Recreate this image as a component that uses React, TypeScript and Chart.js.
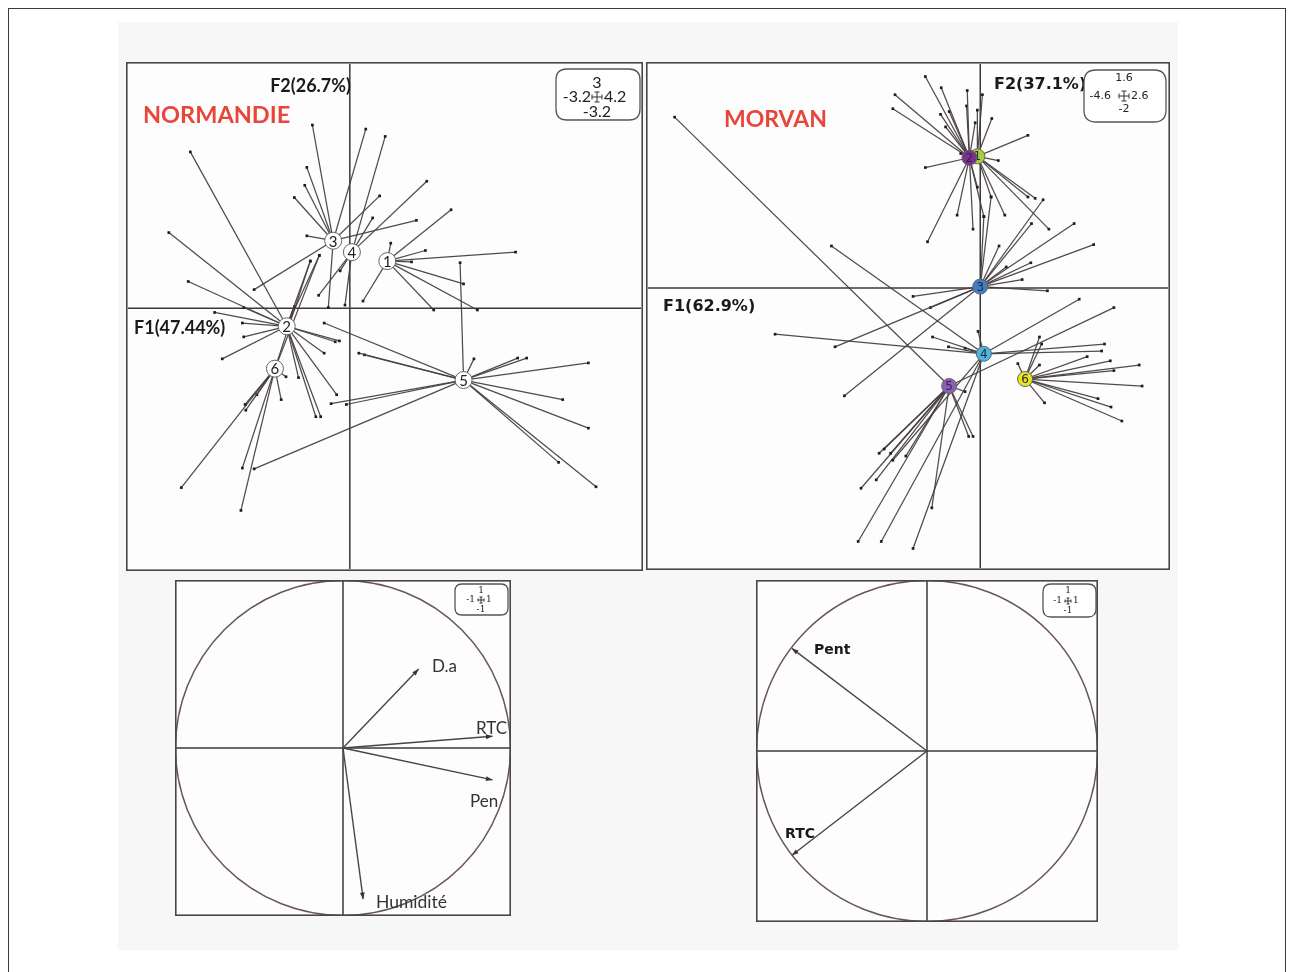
import React, { useEffect, useRef } from "react";
import { Chart, registerables } from "chart.js";
Chart.register(...registerables);

type P = [number, number];

// ---------------- NORMANDIE (ACP individus) ----------------
const NORM_TITLE = "NORMANDIE";
const NORM_F1 = "F1(47.44%)";
const NORM_F2 = "F2(26.7%)";
const NORM_RANGE = { xMin: -3.2, xMax: 4.2, yMin: -3.2, yMax: 3 };
const NORM_RANGE_LABELS = ["3", "-3.2", "4.2", "-3.2"]; // top, left, right, bottom
const NORM_CLASSES = ["1", "2", "3", "4", "5", "6"];
const NORM_CENTROIDS: P[] = [[0.54, 0.58], [-0.91, -0.22], [-0.24, 0.83], [0.03, 0.69], [1.64, -0.88], [-1.08, -0.74]];
const NORM_G1: P[] = [[1.46, 1.21], [1.09, 0.71], [2.39, 0.69], [0.89, 0.57], [1.64, 0.30], [1.21, -0.02], [1.84, -0.02], [0.59, 0.80], [0.19, 0.09]];
const NORM_G2: P[] = [[-2.30, 1.92], [-2.61, 0.93], [-2.33, 0.33], [-1.95, -0.05], [-1.53, 0.01], [-1.84, -0.62], [-1.53, -0.35], [-1.55, -0.18], [-0.15, -0.40], [-0.21, -0.41], [-0.37, -0.55], [-0.74, -0.85], [-0.19, -1.06], [-0.49, -1.33], [-0.42, -1.33], [-0.57, 0.58], [-0.44, 0.65], [-0.80, 0.02]];
const NORM_G3: P[] = [[-0.54, 2.25], [0.23, 2.20], [-0.62, 1.73], [-0.65, 1.51], [-0.80, 1.36], [0.43, 1.38], [-0.62, 0.89], [-1.38, 0.23], [0.96, 1.08], [-0.31, 0.01]];
const NORM_G4: P[] = [[1.11, 1.56], [0.51, 2.11], [0.33, 1.11], [-0.14, 0.46], [-0.45, 0.16], [-0.07, 0.04]];
const NORM_G5: P[] = [[1.79, -0.62], [2.42, -0.61], [2.55, -0.61], [3.44, -0.67], [3.07, -1.12], [3.44, -1.47], [3.01, -1.89], [3.55, -2.19], [-0.37, -0.18], [0.13, -0.55], [0.21, -0.57], [-0.27, -1.17], [-0.05, -1.18], [-1.38, -1.97], [1.59, 0.56]];
const NORM_G6: P[] = [[-0.92, -0.84], [-0.99, -1.12], [-1.51, -1.18], [-1.50, -1.25], [-1.34, -1.06], [-1.55, -1.96], [-2.43, -2.20], [-1.57, -2.48], [-0.44, 0.65], [-0.57, 0.58]];
const NORM_GROUPS: P[][] = [NORM_G1, NORM_G2, NORM_G3, NORM_G4, NORM_G5, NORM_G6];

// ---------------- MORVAN (ACP individus) ----------------
const MORV_TITLE = "MORVAN";
const MORV_F1 = "F1(62.9%)";
const MORV_F2 = "F2(37.1%)";
const MORV_RANGE = { xMin: -4.6, xMax: 2.6, yMin: -2, yMax: 1.6 };
const MORV_RANGE_LABELS = ["1.6", "-4.6", "2.6", "-2"];
const MORV_CLASSES = ["1", "2", "3", "4", "5", "6"];
const MORV_COLORS = ["#a6d13c", "#7e2f90", "#3f7fc6", "#4db5e3", "#8d5db7", "#e8e423"];
const MORV_CENTROIDS: P[] = [[-0.04, 0.94], [-0.15, 0.93], [0.0, 0.01], [0.05, -0.47], [-0.43, -0.70], [0.62, -0.65]];
const MORV_G1: P[] = [[0.66, 1.09], [0.25, 0.91], [0.34, 0.52], [0.76, 0.64], [0.95, 0.42], [0.66, 0.65], [0.16, 1.21], [0.03, 1.38], [-0.04, 1.27], [0.15, 0.65]];
const MORV_G2: P[] = [[-0.76, 1.51], [-0.54, 1.43], [-0.18, 1.41], [-0.55, 1.24], [-0.43, 1.26], [-0.19, 1.30], [-0.48, 1.15], [-0.07, 1.18], [-0.27, 0.96], [-0.76, 0.86], [-0.04, 0.72], [-0.32, 0.52], [0.05, 0.51], [-0.10, 0.42], [-0.73, 0.33], [-1.18, 1.38], [-1.21, 1.28]];
const MORV_G3: P[] = [[1.30, 0.46], [1.57, 0.31], [0.71, 0.46], [0.87, 0.63], [0.58, 0.06], [0.70, 0.18], [0.93, -0.02], [-1.88, -0.77], [-2.01, -0.42], [-0.93, -0.06], [-0.69, -0.14], [0.36, 0.15], [0.26, 0.30], [0.05, 0.51], [0.15, 0.65]];
const MORV_G4: P[] = [[1.72, -0.40], [1.68, -0.45], [-2.84, -0.33], [-2.06, 0.30], [-0.44, -0.42], [-0.21, -0.43], [-0.66, -0.35], [-0.03, -0.31], [-1.37, -1.81], [-1.21, -1.23], [1.37, -0.08], [-0.93, -1.86]];
const MORV_G5: P[] = [[-4.23, 1.22], [-0.21, -0.74], [-0.16, -1.06], [-0.10, -1.06], [-0.67, -1.57], [-1.33, -1.15], [-1.40, -1.18], [-1.24, -1.18], [-1.65, -1.43], [-1.44, -1.37], [-1.69, -1.81], [-1.03, -1.20], [1.85, -0.14]];
const MORV_G6: P[] = [[1.48, -0.49], [1.80, -0.52], [2.20, -0.55], [1.85, -0.59], [2.24, -0.70], [1.63, -0.79], [1.81, -0.85], [1.96, -0.95], [0.89, -0.82], [0.82, -0.35], [0.85, -0.40], [0.82, -0.55], [0.52, -0.54]];
const MORV_GROUPS: P[][] = [MORV_G1, MORV_G2, MORV_G3, MORV_G4, MORV_G5, MORV_G6];

// ---------------- Cercles des corrélations ----------------
const CIRCLE_RANGE_LABELS = ["1", "-1", "1", "-1"];
const NORM_VARS = ["D.a", "RTC", "Pen", "Humidité"];
const NORM_VAR_X = [0.45, 0.89, 0.89, 0.12];
const NORM_VAR_Y = [0.47, 0.07, -0.19, -0.90];
const MORV_VARS = ["Pent", "RTC"];
const MORV_VAR_X = [-0.79, -0.79];
const MORV_VAR_Y = [0.60, -0.61];

// ---------------- drawing helpers ----------------
function line(ctx: CanvasRenderingContext2D, x1: number, y1: number, x2: number, y2: number) {
  ctx.beginPath();
  ctx.moveTo(x1, y1);
  ctx.lineTo(x2, y2);
  ctx.stroke();
}

function roundRect(ctx: CanvasRenderingContext2D, x: number, y: number, w: number, h: number, r: number) {
  ctx.beginPath();
  ctx.moveTo(x + r, y);
  ctx.lineTo(x + w - r, y);
  ctx.quadraticCurveTo(x + w, y, x + w, y + r);
  ctx.lineTo(x + w, y + h - r);
  ctx.quadraticCurveTo(x + w, y + h, x + w - r, y + h);
  ctx.lineTo(x + r, y + h);
  ctx.quadraticCurveTo(x, y + h, x, y + h - r);
  ctx.lineTo(x, y + r);
  ctx.quadraticCurveTo(x, y, x + r, y);
  ctx.closePath();
}

type LegendBox = { x: number; y: number; w: number; h: number; r: number; cx: number; cy: number; top: number; bottom: number; left: number; right: number; font: string; arm: number };

function drawLegendBox(ctx: CanvasRenderingContext2D, b: LegendBox, labels: string[]) {
  ctx.save();
  roundRect(ctx, b.x, b.y, b.w, b.h, b.r);
  ctx.fillStyle = "#ffffff";
  ctx.fill();
  ctx.strokeStyle = "#555";
  ctx.lineWidth = 1.3;
  ctx.stroke();
  ctx.fillStyle = "#222";
  ctx.font = b.font;
  ctx.textBaseline = "middle";
  ctx.textAlign = "center";
  ctx.fillText(labels[0], b.cx, b.top);
  ctx.fillText(labels[3], b.cx, b.bottom);
  ctx.textAlign = "right";
  ctx.fillText(labels[1], b.left, b.cy);
  ctx.textAlign = "left";
  ctx.fillText(labels[2], b.right, b.cy);
  const a = b.arm;
  ctx.strokeStyle = "#333";
  ctx.lineWidth = 1;
  line(ctx, b.cx, b.cy - a, b.cx, b.cy + a);
  line(ctx, b.cx - a / 2, b.cy - a, b.cx + a / 2, b.cy - a);
  line(ctx, b.cx - a / 2, b.cy + a, b.cx + a / 2, b.cy + a);
  line(ctx, b.cx - a, b.cy, b.cx + a, b.cy);
  line(ctx, b.cx - a, b.cy - a / 2, b.cx - a, b.cy + a / 2);
  line(ctx, b.cx + a, b.cy - a / 2, b.cx + a, b.cy + a / 2);
  ctx.restore();
}

type TextItem = { text: string; x: number; y: number; font: string; color: string; align: CanvasTextAlign };

function drawTexts(ctx: CanvasRenderingContext2D, items: TextItem[]) {
  ctx.save();
  ctx.textBaseline = "middle";
  items.forEach((t) => {
    ctx.font = t.font;
    ctx.fillStyle = t.color;
    ctx.textAlign = t.align;
    ctx.fillText(t.text, t.x, t.y);
  });
  ctx.restore();
}

function drawFrame(chart: any) {
  const { ctx, width, height } = chart;
  ctx.save();
  ctx.strokeStyle = "#4a4646";
  ctx.lineWidth = 1.6;
  ctx.strokeRect(0.8, 0.8, width - 1.6, height - 1.6);
  ctx.restore();
}

function bgPlugin(color: string) {
  return {
    id: "bg",
    beforeDraw(chart: any) {
      const { ctx, width, height } = chart;
      ctx.save();
      ctx.fillStyle = color;
      ctx.fillRect(0, 0, width, height);
      ctx.restore();
    },
  };
}

function axesPlugin() {
  return {
    id: "zeroAxes",
    beforeDatasetsDraw(chart: any) {
      const { ctx, chartArea: a, scales } = chart;
      const x0 = scales.x.getPixelForValue(0);
      const y0 = scales.y.getPixelForValue(0);
      ctx.save();
      ctx.strokeStyle = "#3c3838";
      ctx.lineWidth = 1.5;
      line(ctx, a.left, y0, a.right, y0);
      line(ctx, x0, a.top, x0, a.bottom);
      ctx.restore();
    },
  };
}

// ---------------- star plot config ----------------
type StarSpec = {
  range: { xMin: number; xMax: number; yMin: number; yMax: number };
  centroids: P[];
  groups: P[][];
  classes: string[];
  fills: string[];
  labelColor: string;
  centroidRadius: number;
  centroidFont: string;
  texts: TextItem[];
  legend: LegendBox;
  legendLabels: string[];
};

function starConfig(spec: StarSpec): any {
  const datasets: any[] = [];
  spec.groups.forEach((g, gi) => {
    const c = spec.centroids[gi];
    g.forEach((p) => {
      datasets.push({
        data: [{ x: c[0], y: c[1] }, { x: p[0], y: p[1] }],
        showLine: true,
        borderColor: "rgba(72,64,64,0.95)",
        borderWidth: 1.25,
        pointRadius: [0, 1.9],
        pointStyle: "rect",
        pointBackgroundColor: "#1c1c1c",
        pointBorderColor: "#1c1c1c",
        pointBorderWidth: 0,
        pointHoverRadius: 0,
      });
    });
  });
  const centroidPlugin = {
    id: "centroids",
    afterDatasetsDraw(chart: any) {
      const { ctx, scales } = chart;
      ctx.save();
      spec.centroids.forEach((c, i) => {
        const px = scales.x.getPixelForValue(c[0]);
        const py = scales.y.getPixelForValue(c[1]);
        ctx.beginPath();
        ctx.arc(px, py, spec.centroidRadius, 0, Math.PI * 2);
        ctx.fillStyle = spec.fills[i];
        ctx.fill();
        ctx.strokeStyle = "#666";
        ctx.lineWidth = 1;
        ctx.stroke();
        ctx.fillStyle = spec.labelColor;
        ctx.font = spec.centroidFont;
        ctx.textAlign = "center";
        ctx.textBaseline = "middle";
        ctx.fillText(spec.classes[i], px, py + 1);
      });
      ctx.restore();
      drawTexts(ctx, spec.texts);
      drawLegendBox(ctx, spec.legend, spec.legendLabels);
      drawFrame(chart);
    },
  };
  return {
    type: "scatter",
    data: { datasets },
    options: {
      responsive: false,
      maintainAspectRatio: false,
      animation: false,
      events: [],
      layout: { padding: 0 },
      plugins: { legend: { display: false }, tooltip: { enabled: false } },
      scales: {
        x: { type: "linear", min: spec.range.xMin, max: spec.range.xMax, display: false },
        y: { type: "linear", min: spec.range.yMin, max: spec.range.yMax, display: false },
      },
    },
    plugins: [bgPlugin("#fdfdfd"), axesPlugin(), centroidPlugin],
  };
}

// ---------------- correlation circle config ----------------
type CircleSpec = {
  names: string[];
  vx: number[];
  vy: number[];
  texts: TextItem[];
  legend: LegendBox;
  head: number;
};

function circleConfig(spec: CircleSpec): any {
  const datasets = spec.names.map((n, i) => ({
    label: n,
    data: [{ x: 0, y: 0 }, { x: spec.vx[i], y: spec.vy[i] }],
    showLine: true,
    borderColor: "#4a4444",
    borderWidth: 1.4,
    pointRadius: 0,
    pointHoverRadius: 0,
  }));
  const circlePlugin = {
    id: "circle",
    beforeDatasetsDraw(chart: any) {
      const { ctx, scales } = chart;
      const cx = scales.x.getPixelForValue(0);
      const cy = scales.y.getPixelForValue(0);
      const r = scales.x.getPixelForValue(1) - cx;
      ctx.save();
      ctx.strokeStyle = "#6a5555";
      ctx.lineWidth = 1.5;
      ctx.beginPath();
      ctx.arc(cx, cy, r - 0.5, 0, Math.PI * 2);
      ctx.stroke();
      ctx.restore();
    },
    afterDatasetsDraw(chart: any) {
      const { ctx, scales } = chart;
      const cx = scales.x.getPixelForValue(0);
      const cy = scales.y.getPixelForValue(0);
      ctx.save();
      ctx.fillStyle = "#3a3434";
      spec.names.forEach((_, i) => {
        const tx = scales.x.getPixelForValue(spec.vx[i]);
        const ty = scales.y.getPixelForValue(spec.vy[i]);
        const ang = Math.atan2(ty - cy, tx - cx);
        const h = spec.head;
        ctx.beginPath();
        ctx.moveTo(tx, ty);
        ctx.lineTo(tx - h * Math.cos(ang - 0.35), ty - h * Math.sin(ang - 0.35));
        ctx.lineTo(tx - h * Math.cos(ang + 0.35), ty - h * Math.sin(ang + 0.35));
        ctx.closePath();
        ctx.fill();
      });
      ctx.restore();
      drawTexts(ctx, spec.texts);
      drawLegendBox(ctx, spec.legend, CIRCLE_RANGE_LABELS);
      drawFrame(chart);
    },
  };
  return {
    type: "scatter",
    data: { datasets },
    options: {
      responsive: false,
      maintainAspectRatio: false,
      animation: false,
      events: [],
      layout: { padding: 0 },
      plugins: { legend: { display: false }, tooltip: { enabled: false } },
      scales: {
        x: { type: "linear", min: -1, max: 1, display: false },
        y: { type: "linear", min: -1, max: 1, display: false },
      },
    },
    plugins: [bgPlugin("#fdfdfd"), axesPlugin(), circlePlugin],
  };
}

// ---------------- React ----------------
function ChartBox({ left, top, width, height, make }: { left: number; top: number; width: number; height: number; make: () => any }) {
  const ref = useRef<HTMLCanvasElement>(null);
  useEffect(() => {
    const chart = new Chart(ref.current as HTMLCanvasElement, make());
    return () => chart.destroy();
  }, []);
  return <canvas ref={ref} width={width} height={height} style={{ position: "absolute", left, top, width, height }} />;
}

const LATO_B = (s: number) => `bold ${s}px Lato, "Noto Sans", sans-serif`;
const DEJ_B = (s: number) => `bold ${s}px "DejaVu Sans", sans-serif`;
const RED = "#e8463a";

const normSpec: StarSpec = {
  range: NORM_RANGE,
  centroids: NORM_CENTROIDS,
  groups: NORM_GROUPS,
  classes: NORM_CLASSES,
  fills: NORM_CLASSES.map(() => "#ffffff"),
  labelColor: "#222",
  centroidRadius: 8.5,
  centroidFont: `15px Lato, sans-serif`,
  texts: [
    { text: NORM_F2, x: 225, y: 24, font: LATO_B(18), color: "#1a1a1a", align: "right" },
    { text: NORM_TITLE, x: 17, y: 53, font: LATO_B(23.5), color: RED, align: "left" },
    { text: NORM_F1, x: 8, y: 266, font: LATO_B(18), color: "#1a1a1a", align: "left" },
  ],
  legend: { x: 430, y: 7, w: 84, h: 51, r: 11, cx: 471, cy: 35, top: 21, bottom: 50, left: 465, right: 478, font: `16px Lato, sans-serif`, arm: 5 },
  legendLabels: NORM_RANGE_LABELS,
};

const morvSpec: StarSpec = {
  range: MORV_RANGE,
  centroids: MORV_CENTROIDS,
  groups: MORV_GROUPS,
  classes: MORV_CLASSES,
  fills: MORV_COLORS,
  labelColor: "#2a2a3a",
  centroidRadius: 7.5,
  centroidFont: `12px "DejaVu Sans", sans-serif`,
  texts: [
    { text: MORV_TITLE, x: 78, y: 58, font: LATO_B(23), color: RED, align: "left" },
    { text: MORV_F1, x: 17, y: 245, font: DEJ_B(16), color: "#1a1a1a", align: "left" },
    { text: MORV_F2, x: 348, y: 23, font: DEJ_B(16), color: "#1a1a1a", align: "left" },
  ],
  legend: { x: 438, y: 8, w: 82, h: 52, r: 12, cx: 478, cy: 34, top: 16, bottom: 47, left: 465, right: 485, font: `11px "DejaVu Sans", sans-serif`, arm: 5 },
  legendLabels: MORV_RANGE_LABELS,
};

const CAL = (s: number) => `${s}px Lato, "Noto Sans", sans-serif`;
const normCircle: CircleSpec = {
  names: NORM_VARS,
  vx: NORM_VAR_X,
  vy: NORM_VAR_Y,
  head: 7,
  texts: [
    { text: NORM_VARS[0], x: 257, y: 87, font: CAL(17), color: "#333", align: "left" },
    { text: NORM_VARS[1], x: 301, y: 149, font: CAL(17), color: "#333", align: "left" },
    { text: NORM_VARS[2], x: 295, y: 222, font: CAL(17), color: "#333", align: "left" },
    { text: NORM_VARS[3], x: 201, y: 322, font: CAL(17.5), color: "#333", align: "left" },
  ],
  legend: { x: 280, y: 4, w: 53, h: 31, r: 7, cx: 306, cy: 20, top: 11, bottom: 30, left: 300, right: 311, font: `9px "DejaVu Serif", serif`, arm: 3 },
};

const morvCircle: CircleSpec = {
  names: MORV_VARS,
  vx: MORV_VAR_X,
  vy: MORV_VAR_Y,
  head: 7,
  texts: [
    { text: MORV_VARS[0], x: 58, y: 70, font: `bold 14px "DejaVu Sans", sans-serif`, color: "#1a1a1a", align: "left" },
    { text: MORV_VARS[1], x: 29, y: 254, font: `bold 14px "DejaVu Sans", sans-serif`, color: "#1a1a1a", align: "left" },
  ],
  legend: { x: 287, y: 4, w: 53, h: 33, r: 8, cx: 312, cy: 21, top: 11, bottom: 31, left: 306, right: 317, font: `9px "DejaVu Serif", serif`, arm: 3 },
};

export default function App() {
  return (
    <div style={{ position: "absolute", left: 0, top: 0, width: 1290, height: 972, overflow: "hidden", background: "#ffffff" }}>
      <div style={{ position: "absolute", left: 8, top: 8, width: 1278, height: 990, border: "1.5px solid #3c3c3c", boxSizing: "border-box" }} />
      <div style={{ position: "absolute", left: 118, top: 22, width: 1060, height: 928, background: "#f7f7f7" }} />
      <ChartBox left={126} top={62} width={517} height={509} make={() => starConfig(normSpec)} />
      <ChartBox left={646} top={62} width={524} height={508} make={() => starConfig(morvSpec)} />
      <ChartBox left={175} top={580} width={336} height={336} make={() => circleConfig(normCircle)} />
      <ChartBox left={756} top={580} width={342} height={342} make={() => circleConfig(morvCircle)} />
    </div>
  );
}
